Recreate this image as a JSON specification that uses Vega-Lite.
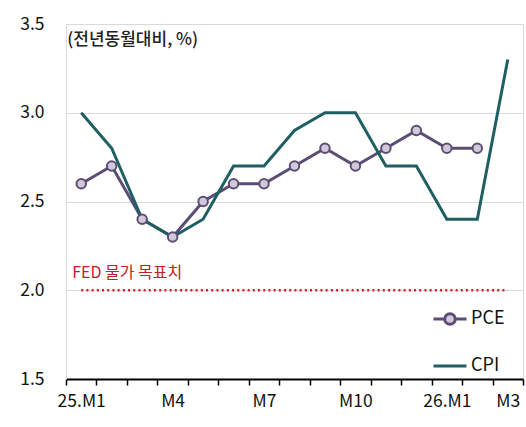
{
  "$schema": "https://vega.github.io/schema/vega-lite/v6.json",
  "autosize": {"type": "none"},
  "padding": {"left": 66, "top": 24, "right": 3, "bottom": 48},
  "width": 457,
  "height": 355,
  "config": {
    "font": "Noto Sans CJK KR",
    "view": {"stroke": "#d9d9d9", "strokeWidth": 1}
  },
  "datasets": {
    "series": [
      {"month": "25.M1", "series": "PCE", "value": 2.6},
      {"month": "25.M2", "series": "PCE", "value": 2.7},
      {"month": "25.M3", "series": "PCE", "value": 2.4},
      {"month": "25.M4", "series": "PCE", "value": 2.3},
      {"month": "25.M5", "series": "PCE", "value": 2.5},
      {"month": "25.M6", "series": "PCE", "value": 2.6},
      {"month": "25.M7", "series": "PCE", "value": 2.6},
      {"month": "25.M8", "series": "PCE", "value": 2.7},
      {"month": "25.M9", "series": "PCE", "value": 2.8},
      {"month": "25.M10", "series": "PCE", "value": 2.7},
      {"month": "25.M11", "series": "PCE", "value": 2.8},
      {"month": "25.M12", "series": "PCE", "value": 2.9},
      {"month": "26.M1", "series": "PCE", "value": 2.8},
      {"month": "26.M2", "series": "PCE", "value": 2.8},
      {"month": "25.M1", "series": "CPI", "value": 3.0},
      {"month": "25.M2", "series": "CPI", "value": 2.8},
      {"month": "25.M3", "series": "CPI", "value": 2.4},
      {"month": "25.M4", "series": "CPI", "value": 2.3},
      {"month": "25.M5", "series": "CPI", "value": 2.4},
      {"month": "25.M6", "series": "CPI", "value": 2.7},
      {"month": "25.M7", "series": "CPI", "value": 2.7},
      {"month": "25.M8", "series": "CPI", "value": 2.9},
      {"month": "25.M9", "series": "CPI", "value": 3.0},
      {"month": "25.M10", "series": "CPI", "value": 3.0},
      {"month": "25.M11", "series": "CPI", "value": 2.7},
      {"month": "25.M12", "series": "CPI", "value": 2.7},
      {"month": "26.M1", "series": "CPI", "value": 2.4},
      {"month": "26.M2", "series": "CPI", "value": 2.4},
      {"month": "26.M3", "series": "CPI", "value": 3.3}
    ],
    "fed": [
      {"month": "25.M1", "value": 2.0},
      {"month": "26.M3", "value": 2.0}
    ],
    "notes": [
      {"month": "25.M1", "value": 3.41, "text": "(전년동월대비, %)", "kind": "title"},
      {"month": "25.M1", "value": 2.1, "text": "FED 물가 목표치", "kind": "fed"}
    ]
  },
  "encoding": {
    "x": {
      "field": "month",
      "type": "nominal",
      "scale": {
        "type": "band",
        "paddingInner": 0,
        "paddingOuter": 0,
        "domain": ["25.M1","25.M2","25.M3","25.M4","25.M5","25.M6","25.M7","25.M8","25.M9","25.M10","25.M11","25.M12","26.M1","26.M2","26.M3"]
      },
      "axis": {
        "title": null,
        "labelAngle": 0,
        "tickBand": "extent",
        "domainColor": "#000000",
        "domainWidth": 2,
        "tickColor": "#000000",
        "tickWidth": 1.5,
        "tickSize": 6,
        "labelPadding": 7,
        "labelFontSize": 17.5,
        "labelColor": "#111111",
        "labelExpr": "datum.value == '25.M1' ? '25.M1' : datum.value == '25.M4' ? 'M4' : datum.value == '25.M7' ? 'M7' : datum.value == '25.M10' ? 'M10' : datum.value == '26.M1' ? '26.M1' : datum.value == '26.M3' ? 'M3' : ''"
      }
    },
    "y": {
      "field": "value",
      "type": "quantitative",
      "scale": {"domain": [1.5, 3.5], "nice": false, "zero": false},
      "axis": {
        "title": null,
        "values": [1.5, 2.0, 2.5, 3.0, 3.5],
        "format": ".1f",
        "grid": true,
        "gridColor": "#d9d9d9",
        "gridWidth": 1,
        "domainColor": "#d9d9d9",
        "ticks": false,
        "labelPadding": 22,
        "labelFontSize": 17.5,
        "labelColor": "#111111"
      }
    }
  },
  "layer": [
    {
      "data": {"name": "fed"},
      "mark": {"type": "line", "color": "#d0202a", "strokeWidth": 2.5, "strokeDash": [2, 3.2], "strokeCap": "butt"}
    },
    {
      "data": {"name": "series"},
      "mark": {"type": "line", "strokeWidth": 3},
      "encoding": {
        "color": {
          "field": "series",
          "type": "nominal",
          "scale": {"domain": ["PCE", "CPI"], "range": ["#5b4d75", "#1f5f63"]},
          "legend": {
            "title": null,
            "orient": "none",
            "legendX": 366,
            "legendY": 277,
            "direction": "vertical",
            "padding": 0,
            "rowPadding": 17,
            "symbolSize": 1089,
            "symbolStrokeWidth": 3,
            "labelFontSize": 18,
            "labelColor": "#111111",
            "labelOffset": 3,
            "encode": {
              "symbols": {
                "update": {
                  "shape": {"signal": "datum.value === 'PCE' ? 'M-1,0H-0.32M0.32,0H1M0.32,0A0.32,0.32,0,1,1,-0.32,0A0.32,0.32,0,1,1,0.32,0Z' : 'M-1,0H1'"},
                  "fill": {"signal": "datum.value === 'PCE' ? '#cfc9d8' : 'transparent'"},
                  "fillOpacity": {"value": 1}
                }
              }
            }
          }
        }
      }
    },
    {
      "data": {"name": "series"},
      "transform": [{"filter": "datum.series === 'PCE'"}],
      "mark": {"type": "point", "filled": false, "fill": "#cfc9d8", "fillOpacity": 1, "stroke": "#5b4d75", "strokeWidth": 2, "size": 90, "opacity": 1}
    },
    {
      "data": {"name": "notes"},
      "transform": [{"filter": "datum.kind === 'title'"}],
      "mark": {"type": "text", "align": "left", "baseline": "middle", "dx": -14, "fontSize": 17, "fontWeight": 500, "color": "#222222"},
      "encoding": {"text": {"field": "text"}}
    },
    {
      "data": {"name": "notes"},
      "transform": [{"filter": "datum.kind === 'fed'"}],
      "mark": {"type": "text", "align": "left", "baseline": "middle", "dx": -9, "fontSize": 16, "color": "#c0202a"},
      "encoding": {"text": {"field": "text"}}
    }
  ]
}
